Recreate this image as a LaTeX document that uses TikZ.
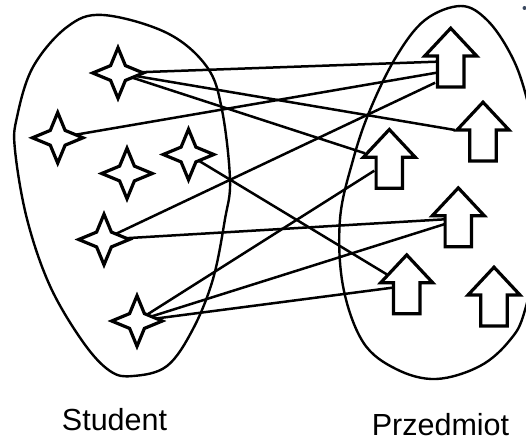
\documentclass[tikz,border=0pt]{standalone}
\usepackage{fontspec}
\setmainfont{Liberation Sans}
\usetikzlibrary{calc}
\tikzset{
  shapeline/.style={line width=3.2pt, line join=miter, draw=black, fill=white},
  link/.style={line width=2.5pt, draw=black},
  blob/.style={line width=2.4pt, draw=black},
  label/.style={font=\fontsize{30.5}{36}\selectfont, anchor=base, inner sep=0pt},
  fourstar/.pic={\path[shapeline] (25.3,0) -- (7.4,7.4) -- (0,25.3) -- (-7.4,7.4) -- (-25.3,0) -- (-7.4,-7.4) -- (0,-25.3) -- (7.4,-7.4) -- cycle;},
  uparrow/.pic={\path[shapeline] (0,2.2) -- (26,30) -- (13.2,30) -- (13.2,61) -- (-13.2,61) -- (-13.2,30) -- (-26,30) -- cycle;}
}
\begin{document}
\begin{tikzpicture}[x=1pt,y=-1pt]
\useasboundingbox (0,0) rectangle (526,438);
\clip (0,0) rectangle (526,438);
% groups
\draw[blob] plot[smooth cycle, tension=0.6] coordinates {(103,15) (167,33) (207,67) (222,110) (230,180) (225,219) (213,279) (193,329) (167,366) (133,376) (110,371) (83,342) (50,286) (27,219) (15,150) (17,117) (33,67) (67,27)};
\draw[blob] plot[smooth cycle, tension=0.6] coordinates {(461,6) (487,20) (510,53) (525,92) (540,160) (542,230) (525,310) (510,340) (480,366) (436,379) (396,369) (363,342) (343,286) (340,219) (353,160) (370,110) (396,57) (425,20)};
% element positions
\coordinate (A) at (118,73);
\coordinate (B) at (57.7,137.8);
\coordinate (C) at (127,173.5);
\coordinate (D) at (188.5,154.5);
\coordinate (E) at (104,239.5);
\coordinate (F) at (137,321);
\coordinate (P1) at (450.7,26);
\coordinate (P2) at (483,100);
\coordinate (P3) at (389.3,127.3);
\coordinate (P4) at (458.3,185.7);
\coordinate (P5) at (406.7,252.7);
\coordinate (P6) at (494,265);
% connectors
\draw[link] (A) -- ($(P1)+(-14,35.7)$);
\draw[link] (A) -- ($(P2)+(-28,30)$);
\draw[link] (A) -- ($(P3)+(-24.3,26)$);
\draw[link] (B) -- ($(P1)+(-14,46.7)$);
\draw[link] (D) -- ($(P5)+(-20,21.6)$);
\draw[link] (E) -- ($(P1)+(-15.5,56.7)$);
\draw[link] (E) -- ($(P4)+(-13.3,33.6)$);
\draw[link] (F) -- ($(P3)+(-15,43.4)$);
\draw[link] (F) -- ($(P4)+(-13.3,38.3)$);
\draw[link] (F) -- ($(P5)+(-14.4,35)$);
% shapes
\foreach \s in {A,B,C,D,E,F} { \pic (star\s) at (\s) {fourstar}; }
\foreach \p in {P1,P2,P3,P4,P5,P6} { \pic (arrow\p) at (\p) {uparrow}; }
% labels
\node[label] (student) at (114.5,430.5) {Student};
\node[label] (przedmiot) at (440.5,435) {Przedmiot};
\fill[fill={rgb,255:red,58;green,72;blue,96}] (524.5,8) circle (2);
\end{tikzpicture}
\end{document}
